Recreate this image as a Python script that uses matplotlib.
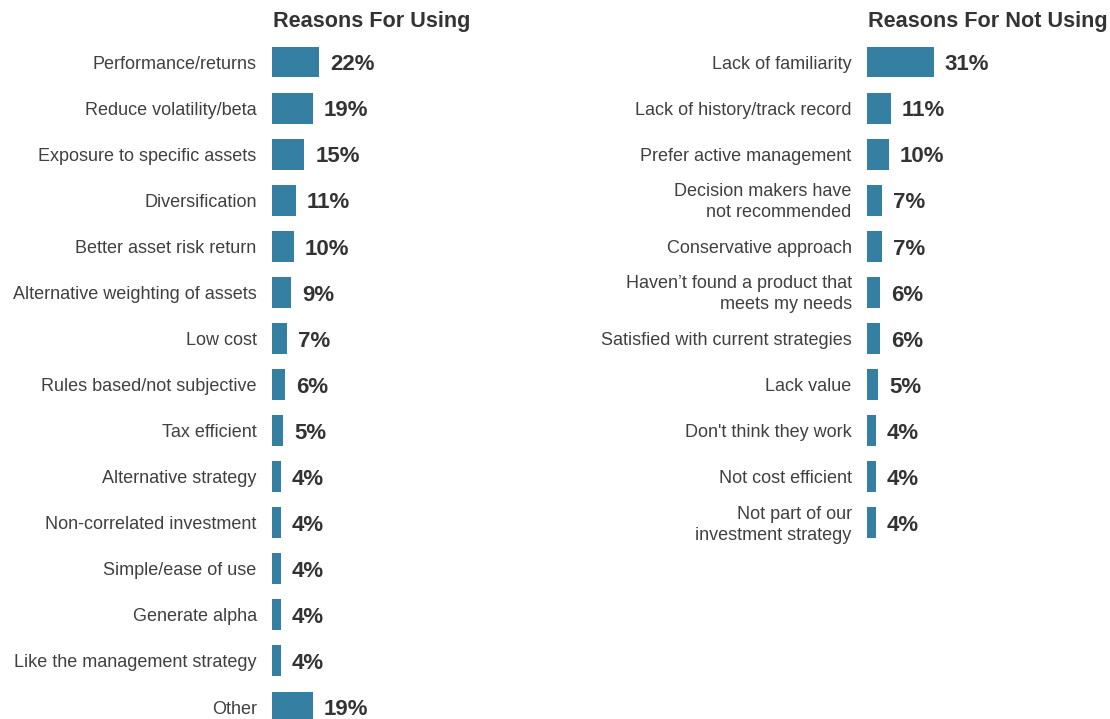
import matplotlib.pyplot as plt

plt.rcParams['font.family'] = ['Liberation Sans', 'DejaVu Sans']

# data
using_labels = ['Performance/returns', 'Reduce volatility/beta', 'Exposure to specific assets',
                'Diversification', 'Better asset risk return', 'Alternative weighting of assets',
                'Low cost', 'Rules based/not subjective', 'Tax efficient', 'Alternative strategy',
                'Non-correlated investment', 'Simple/ease of use', 'Generate alpha',
                'Like the management strategy', 'Other']
using_values = [22, 19, 15, 11, 10, 9, 7, 6, 5, 4, 4, 4, 4, 4, 19]

not_labels = ['Lack of familiarity', 'Lack of history/track record', 'Prefer active management',
              'Decision makers have\nnot recommended', 'Conservative approach',
              'Haven\u2019t found a product that\nmeets my needs', 'Satisfied with current strategies',
              'Lack value', "Don't think they work", 'Not cost efficient',
              'Not part of our\ninvestment strategy']
not_values = [31, 11, 10, 7, 7, 6, 6, 5, 4, 4, 4]

bar_color = '#357fa2'
label_color = '#404040'
value_color = '#333333'

W, H = 1110, 719
fig = plt.figure(figsize=(W / 100, H / 100), dpi=100)

row = 46.07
top_px = 62 - row / 2
ylim = (-0.5 + (H - top_px) / row, -0.5)
ax_w = 220
xmax = ax_w / 2.15


def panel(left_px, labels, values, title):
    ax = fig.add_axes([left_px / W, 0, ax_w / W, (H - top_px) / H])
    ypos = list(range(len(values)))
    ax.barh(ypos, values, height=0.67, color=bar_color)
    for y, lab, v in zip(ypos, labels, values):
        ax.annotate(lab, (0, y), xytext=(-11, -1.5), textcoords='offset points',
                    ha='right', va='center', fontsize=13, color=label_color,
                    linespacing=1.3)
        ax.annotate(f'{v}%', (v, y), xytext=(8, -2), textcoords='offset points',
                    ha='left', va='center', fontsize=16, fontweight='bold',
                    color=value_color)
    ax.set_xlim(0, xmax)
    ax.set_ylim(*ylim)
    ax.axis('off')
    fig.text((left_px + 1) / W, 1 - 21 / H, title, ha='left', va='center',
             fontsize=15.6, fontweight='bold', color=value_color)


panel(272, using_labels, using_values, 'Reasons For Using')
panel(867, not_labels, not_values, 'Reasons For Not Using')

fig.savefig('out.png', dpi=100)
